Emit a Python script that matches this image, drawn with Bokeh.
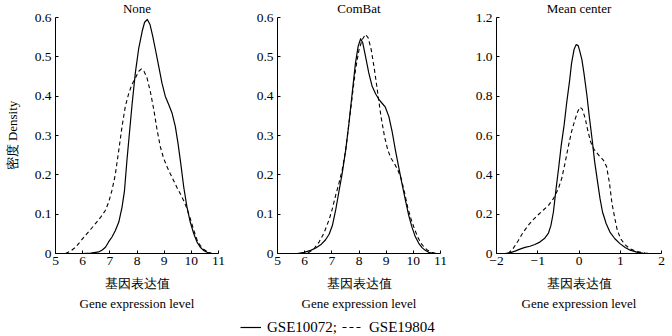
import numpy as np
from bokeh.plotting import figure
from bokeh.layouts import column, row
from bokeh.models import Range1d, Title, FixedTicker
from bokeh.embed import file_html
from bokeh.resources import INLINE

# ---------------- data ----------------
panel_titles = ["None", "ComBat", "Mean center"]
series_names = ["GSE10072;", "GSE19804"]

none_x_10072 = [6.0, 6.3, 6.59, 6.72, 6.84, 6.96, 7.08, 7.2, 7.33, 7.45, 7.54, 7.63, 7.72, 7.82, 7.94, 8.06,
                8.19, 8.28, 8.38, 8.48, 8.58, 8.68, 8.8, 8.92, 9.04, 9.17, 9.29, 9.41, 9.51, 9.61, 9.72,
                9.84, 9.96, 10.09, 10.21, 10.33, 10.45, 10.58, 10.76]
none_y_10072 = [0.0, 0.001, 0.004, 0.009, 0.016, 0.03, 0.042, 0.058, 0.08, 0.118, 0.16, 0.237, 0.305, 0.38,
                0.46, 0.52, 0.565, 0.588, 0.595, 0.582, 0.552, 0.518, 0.476, 0.433, 0.4, 0.378, 0.357,
                0.323, 0.28, 0.229, 0.169, 0.118, 0.08, 0.05, 0.029, 0.016, 0.008, 0.003, 0.0]
none_x_19804 = [5.37, 5.55, 5.74, 5.92, 6.1, 6.29, 6.47, 6.65, 6.84, 6.96, 7.08, 7.2, 7.33, 7.45, 7.57, 7.7,
                7.82, 7.94, 8.06, 8.16, 8.26, 8.37, 8.49, 8.62, 8.74, 8.86, 8.98, 9.11, 9.23, 9.35, 9.47,
                9.6, 9.72, 9.84, 9.96, 10.09, 10.21, 10.33, 10.45, 10.58, 10.74]
none_y_19804 = [0.0, 0.006, 0.016, 0.031, 0.046, 0.061, 0.076, 0.091, 0.11, 0.131, 0.161, 0.2, 0.263, 0.323,
                0.374, 0.408, 0.431, 0.446, 0.463, 0.469, 0.463, 0.446, 0.412, 0.365, 0.314, 0.271, 0.242,
                0.22, 0.202, 0.185, 0.168, 0.151, 0.134, 0.114, 0.089, 0.059, 0.035, 0.02, 0.011, 0.005, 0.0]

combat_x_10072 = [5.73, 5.98, 6.22, 6.41, 6.59, 6.77, 6.9, 7.02, 7.14, 7.26, 7.38, 7.51, 7.63, 7.75, 7.87,
                  7.97, 8.06, 8.14, 8.24, 8.36, 8.48, 8.61, 8.73, 8.85, 8.97, 9.1, 9.22, 9.34, 9.46, 9.58,
                  9.71, 9.83, 9.95, 10.07, 10.2, 10.32, 10.44, 10.56, 10.75]
combat_y_10072 = [0.0, 0.003, 0.008, 0.014, 0.022, 0.035, 0.049, 0.071, 0.11, 0.157, 0.203, 0.263, 0.331,
                  0.408, 0.484, 0.527, 0.546, 0.535, 0.501, 0.459, 0.426, 0.406, 0.392, 0.382, 0.372, 0.348,
                  0.31, 0.263, 0.22, 0.178, 0.135, 0.097, 0.067, 0.043, 0.026, 0.015, 0.008, 0.003, 0.0]
combat_x_19804 = [5.86, 6.16, 6.34, 6.53, 6.71, 6.9, 7.02, 7.14, 7.26, 7.38, 7.51, 7.63, 7.75, 7.87, 8.0,
                  8.12, 8.24, 8.34, 8.45, 8.57, 8.69, 8.81, 8.94, 9.06, 9.18, 9.3, 9.43, 9.55, 9.67, 9.79,
                  9.91, 10.04, 10.16, 10.28, 10.4, 10.53, 10.68, 10.87]
combat_y_19804 = [0.0, 0.003, 0.012, 0.029, 0.052, 0.086, 0.114, 0.148, 0.178, 0.212, 0.263, 0.331, 0.399,
                  0.467, 0.518, 0.544, 0.557, 0.548, 0.518, 0.467, 0.408, 0.348, 0.297, 0.263, 0.242, 0.229,
                  0.212, 0.191, 0.157, 0.118, 0.089, 0.063, 0.042, 0.026, 0.016, 0.008, 0.003, 0.0]

mean_x_10072 = [-1.8, -1.68, -1.55, -1.43, -1.31, -1.19, -1.07, -0.95, -0.83, -0.74, -0.68, -0.62, -0.56,
                -0.49, -0.43, -0.36, -0.3, -0.23, -0.18, -0.12, -0.07, -0.02, 0.02, 0.07, 0.12, 0.19, 0.25,
                0.32, 0.38, 0.45, 0.51, 0.57, 0.66, 0.75, 0.87, 1.0, 1.12, 1.24, 1.4, 1.6]
mean_y_10072 = [0.0, 0.003, 0.012, 0.022, 0.031, 0.037, 0.046, 0.058, 0.078, 0.104, 0.143, 0.211, 0.322,
                0.441, 0.551, 0.654, 0.764, 0.875, 0.968, 1.037, 1.062, 1.057, 1.028, 0.986, 0.917, 0.807,
                0.696, 0.577, 0.466, 0.364, 0.279, 0.211, 0.151, 0.109, 0.075, 0.049, 0.031, 0.017, 0.007, 0.0]
mean_x_19804 = [-1.72, -1.6, -1.47, -1.35, -1.23, -1.11, -0.99, -0.87, -0.74, -0.62, -0.5, -0.42, -0.34,
                -0.26, -0.18, -0.1, -0.03, 0.02, 0.08, 0.15, 0.21, 0.28, 0.35, 0.43, 0.51, 0.59, 0.67, 0.74,
                0.8, 0.87, 0.93, 1.01, 1.12, 1.24, 1.4, 1.6, 1.72]
mean_y_19804 = [0.0, 0.024, 0.066, 0.109, 0.143, 0.172, 0.197, 0.22, 0.245, 0.279, 0.33, 0.381, 0.458,
                0.543, 0.62, 0.679, 0.722, 0.744, 0.734, 0.688, 0.628, 0.569, 0.534, 0.512, 0.492, 0.475,
                0.441, 0.356, 0.254, 0.177, 0.117, 0.075, 0.044, 0.024, 0.01, 0.002, 0.0]

x_ticks_a = [5, 6, 7, 8, 9, 10, 11]
x_ticks_b = [-2, -1, 0, 1, 2]
y_ticks_a = [0, 0.1, 0.2, 0.3, 0.4, 0.5, 0.6]
y_ticks_b = [0, 0.2, 0.4, 0.6, 0.8, 1.0, 1.2]

# ---------------- styling ----------------
FONT = "Liberation Serif"
FS = "13px"
TICK_FS = "13.5px"
FIG_H = 312
TOP = 17
BOTTOM = 59


def make_panel(title, xs, ys, x_range, y_range, xticks, yticks, xover, yover,
               width, left, right, ylabel=None):
    p = figure(width=width, height=FIG_H, output_backend="svg", toolbar_location=None,
               x_range=Range1d(*x_range), y_range=Range1d(*y_range),
               min_border_left=left, min_border_right=right, min_border_top=TOP,
               min_border_bottom=BOTTOM)
    p.title.text = title
    p.title.align = "center"
    p.title.vertical_align = "top"
    p.title.text_font = FONT
    p.title.text_font_size = FS
    p.title.text_font_style = "normal"
    p.title.text_color = "black"
    p.title.standoff = 0
    p.title.offset = 0
    p.outline_line_color = None
    p.grid.visible = False
    p.background_fill_color = "white"
    p.border_fill_color = "white"

    for ax in (p.xaxis[0], p.yaxis[0]):
        ax.major_tick_in = 3
        ax.major_tick_out = 0
        ax.minor_tick_line_color = None
        ax.axis_line_color = "black"
        ax.major_tick_line_color = "black"
        ax.major_label_text_font = FONT
        ax.major_label_text_font_size = TICK_FS
        ax.major_label_text_color = "black"
        ax.axis_label_text_font = FONT
        ax.axis_label_text_font_size = FS
        ax.axis_label_text_font_style = "normal"
        ax.axis_label_text_color = "black"

    p.xaxis.ticker = FixedTicker(ticks=xticks)
    p.yaxis.ticker = FixedTicker(ticks=yticks)
    p.xaxis.major_label_overrides = xover
    p.yaxis.major_label_overrides = yover
    p.xaxis.major_label_standoff = 3
    p.yaxis.major_label_standoff = 4
    p.xaxis.axis_label = "基因表达值"
    p.xaxis.axis_label_standoff = 8
    if ylabel:
        p.yaxis.axis_label = ylabel
        p.yaxis.axis_label_standoff = 12

    sub = Title(text="Gene expression level", align="center", text_font=FONT,
                text_font_size=FS, text_font_style="normal", text_color="black",
                standoff=0, offset=0)
    p.add_layout(sub, "below")

    p.line(xs[0], ys[0], line_color="black", line_width=1.2, line_join="round")
    p.line(xs[1], ys[1], line_color="black", line_width=1.1, line_dash="4 3", line_join="round")
    return p


ya_over = {0: "0", 0.1: "0.1", 0.2: "0.2", 0.3: "0.3", 0.4: "0.4", 0.5: "0.5", 0.6: "0.6"}
yb_over = {0: "0", 0.2: "0.2", 0.4: "0.4", 0.6: "0.6", 0.8: "0.8", 1.0: "1.0", 1.2: "1.2"}
xb_over = {-2: "\u22122", -1: "\u22121", 0: "0", 1: "1", 2: "2"}

p1 = make_panel(panel_titles[0], [none_x_10072, none_x_19804], [none_y_10072, none_y_19804],
                (5, 11), (0, 0.6), x_ticks_a, y_ticks_a, {}, ya_over, 230, 55, 12,
                ylabel="密度 Density")
p2 = make_panel(panel_titles[1], [combat_x_10072, combat_x_19804], [combat_y_10072, combat_y_19804],
                (5, 11), (0, 0.6), x_ticks_a, y_ticks_a, {}, ya_over, 220, 47, 10)
p3 = make_panel(panel_titles[2], [mean_x_10072, mean_x_19804], [mean_y_10072, mean_y_19804],
                (-2, 2), (0, 1.2), x_ticks_b, y_ticks_b, xb_over, yb_over, 222, 46, 11)

# legend strip (renderers hold no visible data; they only provide legend samples)
lg = figure(width=672, height=336 - FIG_H, output_backend="svg", toolbar_location=None,
            x_range=Range1d(0, 1), y_range=Range1d(0, 1), min_border=0)
lg.axis.visible = False
lg.grid.visible = False
lg.outline_line_color = None
lg.line([np.nan], [np.nan], line_color="black", line_width=1.2, legend_label=series_names[0])
lg.line([np.nan], [np.nan], line_color="black", line_width=1.1, line_dash="4 3",
        legend_label=series_names[1])
leg = lg.legend[0]
leg.orientation = "horizontal"
leg.location = (240, -1)
leg.background_fill_alpha = 0
leg.border_line_color = None
leg.label_text_font = FONT
leg.label_text_font_size = "15px"
leg.label_text_color = "black"
leg.glyph_width = 21
leg.label_standoff = 6
leg.spacing = 5
leg.padding = 0
leg.margin = 0

layout = column(row(p1, p2, p3), lg)
open("out.html", "w").write(file_html(layout, INLINE))
